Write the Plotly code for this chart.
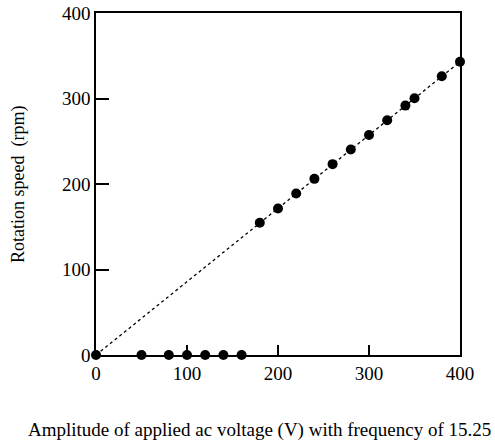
import plotly.graph_objects as go

voltage = [0, 50, 80, 100, 120, 140, 160, 180, 200, 220, 240, 260, 280, 300, 320, 340, 350, 380, 400]
speed = [0, 0, 0, 0, 0, 0, 0, 154.6, 171.4, 188.9, 206, 223.2, 240.3, 257.4, 274.6, 291.7, 300.3, 326, 343]
fit_x = [0, 400]
fit_y = [0, 343]
x_title = "Amplitude of applied ac voltage (V) with frequency of 15.25"
y_title = "Rotation speed  (rpm)"

fig = go.Figure()
fig.add_trace(go.Scatter(x=fit_x, y=fit_y, mode="lines",
                         line=dict(color="black", width=1.3, dash="dot"), showlegend=False))
fig.add_trace(go.Scatter(x=voltage, y=speed, mode="markers",
                         marker=dict(color="black", size=10), showlegend=False, cliponaxis=False))

font = dict(family="Liberation Serif, Times New Roman, serif", color="black")
fig.update_layout(
    width=495, height=443,
    margin=dict(l=96, r=35, t=13, b=88, autoexpand=False),
    paper_bgcolor="white", plot_bgcolor="white",
    font=dict(**font, size=19),
    xaxis=dict(range=[0, 400], tickvals=[0, 100, 200, 300, 400], ticks="inside", ticklen=10,
               tickwidth=1.5, tickcolor="black", showline=True, linecolor="black", linewidth=1.5,
               mirror=True, showgrid=False, zeroline=False, tickfont=dict(size=19),
               ticklabeloverflow="allow", automargin=False),
    yaxis=dict(range=[0, 400], tickvals=[0, 100, 200, 300, 400], ticks="inside", ticklen=13,
               tickwidth=1.5, tickcolor="black", showline=True, linecolor="black", linewidth=1.5,
               mirror=True, showgrid=False, zeroline=False, tickfont=dict(size=19),
               ticklabeloverflow="allow", automargin=False),
    annotations=[
        dict(text=x_title, xref="paper", yref="paper", x=0.4505, y=-0.219,
             xanchor="center", yanchor="middle", showarrow=False, font=dict(size=19)),
        dict(text=y_title, xref="paper", yref="paper", x=-0.2143, y=0.5, textangle=-90,
             xanchor="center", yanchor="middle", showarrow=False, font=dict(size=18)),
    ],
)
fig.write_html("out.html", config={"displayModeBar": False},
               post_script="document.body.style.margin='0';")
